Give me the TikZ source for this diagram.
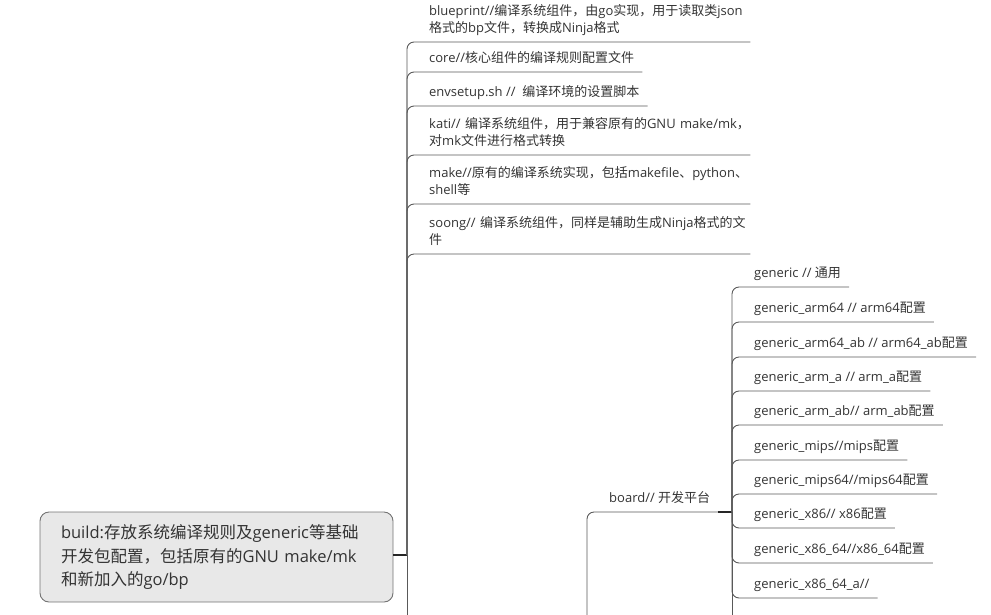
\documentclass[tikz,border=0pt]{standalone}
\usepackage{fontspec}
\setmainfont{Open Sans}
\newfontfamily\hanfont{Noto Sans CJK SC}
% ideographs and full-width punctuation are set in the CJK face
\XeTeXinterchartokenstate=1
\chardef\hanclass=7
\count255="3000
\loop
  \XeTeXcharclass\count255=\hanclass
  \advance\count255 by 1
\ifnum\count255<"A000 \repeat
\count255="FF00
\loop
  \XeTeXcharclass\count255=\hanclass
  \advance\count255 by 1
\ifnum\count255<"FFF0 \repeat
\XeTeXinterchartoks 0 \hanclass = {\hanfont}
\XeTeXinterchartoks 4095 \hanclass = {\hanfont}
\XeTeXinterchartoks \hanclass 0 = {\rmfamily}
\XeTeXinterchartoks \hanclass 4095 = {\rmfamily}
\hyphenpenalty=10000

\tikzset{
  mapnode/.style  = {inner sep=0pt, text=black!80, align=left},
  topic/.style    = {mapnode, shape=rectangle, rounded corners=9pt,
                     draw=black!55, fill=black!9, line width=0.9pt,
                     text width=311pt, inner xsep=21pt, minimum height=90pt,
                     font=\fontsize{16.5}{23.5}\selectfont},
  leaf/.style     = {mapnode, anchor=south west, inner ysep=4.5pt,
                     font=\fontsize{13}{17}\selectfont,
                     execute at end node=\strut},
  wideleaf/.style = {leaf, text width=313pt},
  branch/.style   = {draw=black!65, line width=0.9pt, rounded corners=7pt},
  stub/.style     = {draw=black!85, line width=2pt}
}

\begin{document}
\begin{tikzpicture}[x=1pt, y=-1pt]
  \useasboundingbox (0,0) rectangle (991,614);
  \clip (0,0) rectangle (991,614);

  \node [topic] (build) at (216.5,557)
    {build:存放系统编译规则及generic等基础\\开发包配置，包括原有的GNU make/mk\\和新加入的go/bp};
  \coordinate (buildjoin)  at (407,555);
  \coordinate (buildmore)  at (407,650);
  \coordinate (targetjoin) at (587,650);
  \coordinate (boardjoin)  at (732,512);
  \coordinate (boardmore)  at (732,650);

  % first level
  \node [wideleaf] (blueprint) at (429,42)
    {blueprint//编译系统组件，由go实现，用于读取类json\\格式的bp文件，转换成Ninja格式};
  \node [leaf] (core) at (429,72) {core//核心组件的编译规则配置文件};
  \node [leaf] (envsetup) at (429,106) {envsetup.sh //\ \ 编译环境的设置脚本};
  \node [wideleaf] (kati) at (429,155)
    {kati//~编译系统组件，用于兼容原有的GNU~make/mk，\\对mk文件进行格式转换};
  \node [wideleaf] (make) at (429,204)
    {make//原有的编译系统实现，包括makefile、python、\\shell等};
  \node [wideleaf] (soong) at (429,254)
    {soong//~编译系统组件，同样是辅助生成Ninja格式的文\\件};

  % board and its platforms
  \node [leaf] (board) at (609,512) {board// 开发平台};
  \foreach \i/\y/\txt in {1/287/{generic // 通用},
                          2/322/{generic\_arm64 // arm64配置},
                          3/357/{generic\_arm64\_ab // arm64\_ab配置},
                          4/391/{generic\_arm\_a // arm\_a配置},
                          5/425/{generic\_arm\_ab// arm\_ab配置},
                          6/460/{generic\_mips//mips配置},
                          7/494/{generic\_mips64//mips64配置},
                          8/528/{generic\_x86// x86配置},
                          9/563/{generic\_x86\_64//x86\_64配置},
                          10/598/{generic\_x86\_64\_a//}}
    \node [leaf] (generic\i) at (754,\y) {\txt};

  \draw [stub] (build.east |- buildjoin) -- (buildjoin);
  \draw [branch] (buildjoin) -- (buildmore);
  \foreach \n in {blueprint,core,envsetup,kati,make,soong}
    \draw [branch] (buildjoin) |- ([xshift=8pt]\n.south east);

  \draw [branch] (targetjoin) |- ([xshift=8pt]board.south east);
  \draw [stub] ([xshift=8pt]board.south east) -- (boardjoin);
  \draw [branch] (boardjoin) -- (boardmore);
  \foreach \i in {1,...,10}
    \draw [branch] (boardjoin) |- ([xshift=8pt]generic\i.south east);
\end{tikzpicture}
\end{document}
